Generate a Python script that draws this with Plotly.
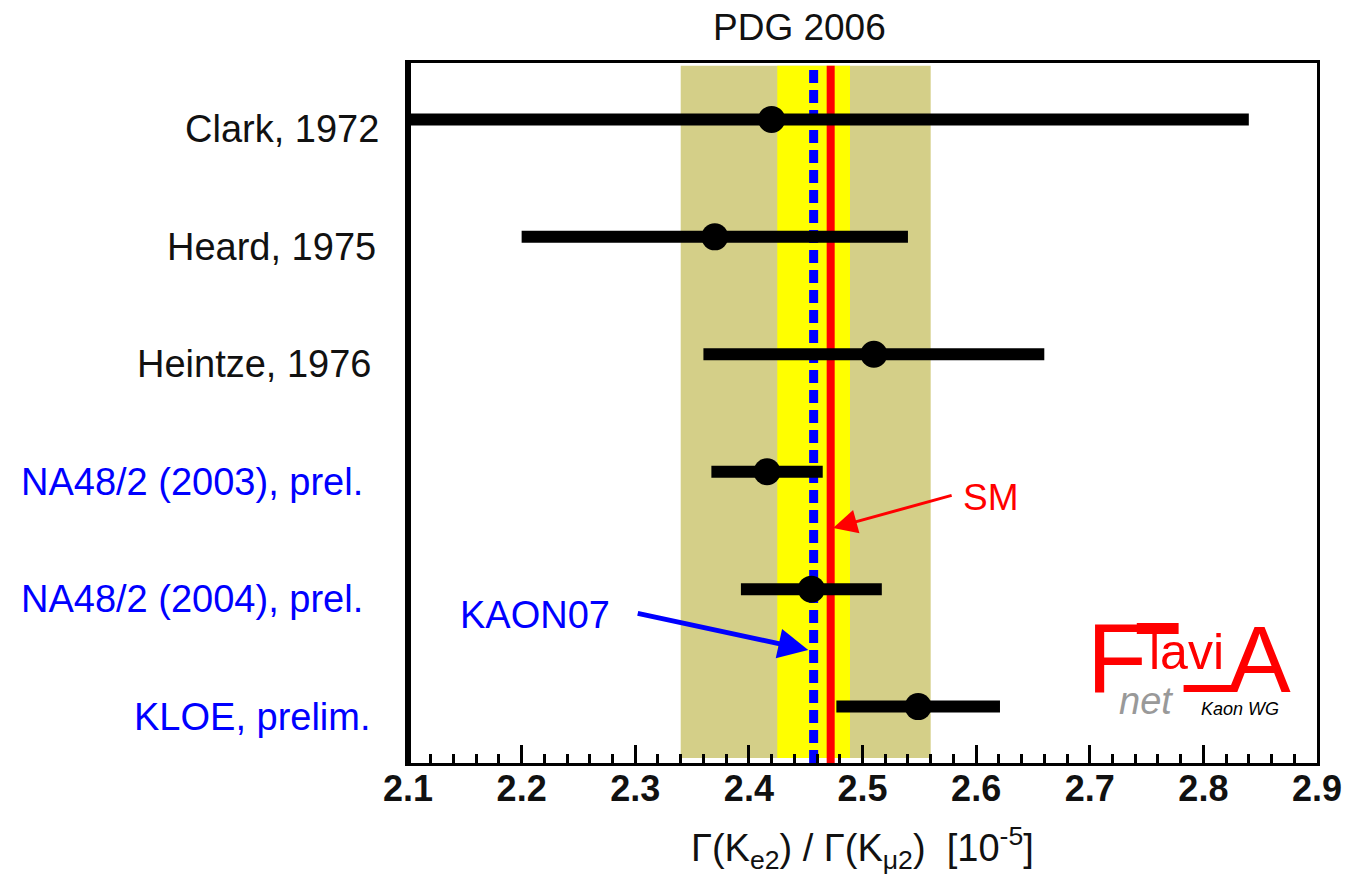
import plotly.graph_objects as go

# ---------------- data ----------------
experiments = ["Clark, 1972", "Heard, 1975", "Heintze, 1976",
               "NA48/2 (2003), prel.", "NA48/2 (2004), prel.", "KLOE, prelim."]
values = [2.42, 2.37, 2.51, 2.416, 2.455, 2.549]
errors = [0.42, 0.17, 0.15, 0.049, 0.062, 0.072]

pdg_avg, pdg_err = 2.45, 0.11          # PDG 2006 band
kaon07_avg, kaon07_err = 2.457, 0.032  # KAON07 average
sm_value = 2.472                       # Standard Model

x_tickvals = [2.1, 2.2, 2.3, 2.4, 2.5, 2.6, 2.7, 2.8, 2.9]
x_ticktext = ["2.1", "2.2", "2.3", "2.4", "2.5", "2.6", "2.7", "2.8", "2.9"]

# ---------------- styles / layout ----------------
label_colors = ["#111111", "#111111", "#111111", "#0000ff", "#0000ff", "#0000ff"]
label_right_px = [379, 376, 372, 363, 363, 371]   # right edge of each row label
FONT = "Liberation Sans, Arial, sans-serif"
W, H = 1354, 890
L, R, T, B = 408, 33, 63, 127
PW, PH = W - L - R, H - T - B


def px(xp):
    return (xp - L) / PW


def py(yp):
    return (H - B - yp) / PH


fig = go.Figure()
fig.add_trace(go.Scatter(
    x=values, y=list(range(len(values))), mode="markers",
    marker=dict(size=27, color="black", line=dict(width=0)),
    error_x=dict(type="data", array=errors, color="black", thickness=12, width=0),
    hoverinfo="x", showlegend=False,
))

shapes = [
    dict(type="rect", xref="x", yref="paper", x0=pdg_avg - pdg_err, x1=pdg_avg + pdg_err,
         y0=0.007, y1=0.996, fillcolor="#d4cf88", line=dict(width=0), layer="below"),
    dict(type="rect", xref="x", yref="paper", x0=kaon07_avg - kaon07_err, x1=kaon07_avg + kaon07_err,
         y0=0.007, y1=0.996, fillcolor="#ffff00", line=dict(width=0), layer="below"),
    dict(type="line", xref="x", yref="paper", x0=kaon07_avg, x1=kaon07_avg, y0=0.0, y1=0.994,
         line=dict(color="#0000ff", width=9, dash="13px,7px"), layer="below"),
    dict(type="line", xref="x", yref="paper", x0=sm_value, x1=sm_value, y0=0.0, y1=0.996,
         line=dict(color="#ff0000", width=8), layer="below"),
    # thick left frame
    dict(type="line", xref="paper", yref="paper", x0=0, x1=0, y0=-0.004, y1=1.004,
         line=dict(color="black", width=6), layer="above"),
    # logo graphic parts (long F top bar, underline joining A)
    dict(type="rect", xref="paper", yref="paper", x0=px(1140), x1=px(1182), y0=py(634), y1=py(623),
         fillcolor="#ff0000", line=dict(width=0), layer="above"),
    dict(type="rect", xref="paper", yref="paper", x0=px(1187), x1=px(1240), y0=py(692), y1=py(685),
         fillcolor="#ff0000", line=dict(width=0), layer="above"),
]

annotations = []
for i, name in enumerate(experiments):
    annotations.append(dict(
        x=0, xref="paper", y=i, yref="y", xanchor="right", yanchor="middle",
        xshift=label_right_px[i] - L + 2, yshift=-10, text=name, showarrow=False,
        font=dict(family=FONT, size=38, color=label_colors[i])))

annotations += [
    dict(x=px(801), y=py(27), xref="paper", yref="paper", text="PDG 2006", showarrow=False,
         xanchor="center", yanchor="middle", font=dict(family=FONT, size=37, color="#111111")),
    dict(x=px(864), y=py(848), xref="paper", yref="paper",
         text="Γ(K<sub>e2</sub>) / Γ(K<sub>μ2</sub>)  [10<sup>-5</sup>]", showarrow=False,
         xanchor="center", yanchor="middle", font=dict(family=FONT, size=38, color="#111111")),
    # SM arrow + label
    dict(x=px(835), y=py(528), xref="paper", yref="paper", text="", showarrow=True,
         ax=120, ay=-33, arrowcolor="#ff0000", arrowwidth=3, arrowhead=2, arrowsize=1.6, standoff=0),
    dict(x=px(994), y=py(497), xref="paper", yref="paper", text="SM", showarrow=False,
         xanchor="center", yanchor="middle", font=dict(family=FONT, size=37, color="#ff0000")),
    # KAON07 arrow + label
    dict(x=px(810), y=py(650), xref="paper", yref="paper", text="", showarrow=True,
         ax=-172, ay=-37, arrowcolor="#0000ff", arrowwidth=5, arrowhead=2, arrowsize=1.2, standoff=0),
    dict(x=px(536), y=py(615), xref="paper", yref="paper", text="KAON07", showarrow=False,
         xanchor="center", yanchor="middle", font=dict(family=FONT, size=38, color="#0000ff")),
    # FlaviA logo
    dict(x=px(1088), y=py(658), xref="paper", yref="paper", text="F", showarrow=False,
         xanchor="left", yanchor="middle", font=dict(family=FONT, size=98, color="#ff0000")),
    dict(x=px(1150), y=py(652), xref="paper", yref="paper", text="lavi", showarrow=False,
         xanchor="left", yanchor="middle", font=dict(family=FONT, size=50, color="#ff0000")),
    dict(x=px(1263), y=py(659), xref="paper", yref="paper", text="A", showarrow=False,
         xanchor="center", yanchor="middle", font=dict(family=FONT, size=94, color="#ff0000")),
    dict(x=px(1149), y=py(701), xref="paper", yref="paper", text="<i>net</i>", showarrow=False,
         xanchor="center", yanchor="middle", font=dict(family=FONT, size=38, color="#999999")),
    dict(x=px(1244), y=py(709), xref="paper", yref="paper", text="<i>Kaon WG</i>", showarrow=False,
         xanchor="center", yanchor="middle", font=dict(family=FONT, size=18, color="#000000")),
]

fig.update_layout(
    width=W, height=H,
    margin=dict(l=L, r=R, t=T, b=B, pad=0),
    paper_bgcolor="white", plot_bgcolor="white",
    shapes=shapes, annotations=annotations,
    xaxis=dict(
        range=[2.1, 2.9], tickmode="array", tickvals=x_tickvals, ticktext=x_ticktext,
        ticks="inside", ticklen=18, tickwidth=3, tickcolor="black",
        minor=dict(ticks="inside", ticklen=9, tickwidth=3, tickcolor="black", dtick=0.02, tick0=2.1),
        showline=True, linewidth=3, linecolor="black", mirror=True,
        showgrid=False, zeroline=False, ticklabelstandoff=-8,
        tickfont=dict(family=FONT, size=36, color="#111111", weight="bold"),
    ),
    yaxis=dict(
        range=[5.48, -0.48], showticklabels=False, ticks="",
        showline=True, linewidth=3, linecolor="black", mirror=True,
        showgrid=False, zeroline=False,
    ),
)

fig.write_html("out.html")
